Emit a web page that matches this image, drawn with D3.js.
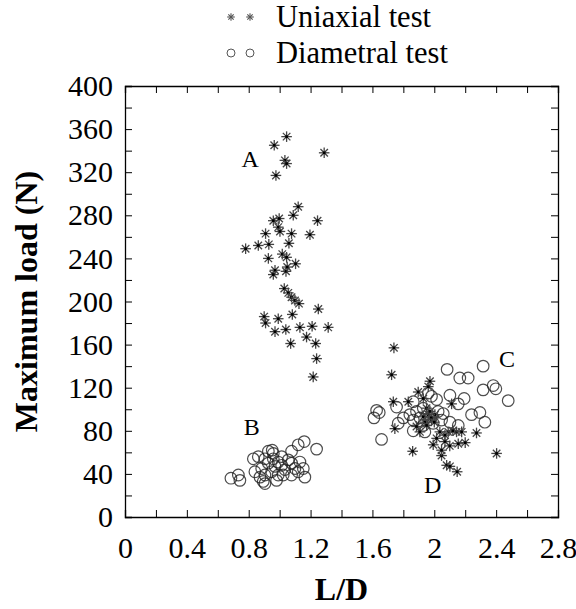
<!DOCTYPE html>
<html>
<head>
<meta charset="utf-8">
<script src="https://cdn.jsdelivr.net/npm/d3@7"></script>
<style>
  body { margin: 0; background: #fff; }
  text { font-family: "Liberation Serif", "Times New Roman", serif; fill: #000; }
</style>
</head>
<body>
<div id="chart"></div>
<script>
// Uniaxial test, cluster A  [L/D, load N]
const uniaxialA = [
  [1.045,353],[0.965,345],[1.288,338],[1.034,331],[1.045,328],[0.976,317],[1.12,288],[1.088,280],
  [1.245,275],[0.959,275],[0.997,277],[0.991,269],[1.002,265],[0.909,263],[1.077,263],[1.196,262],
  [0.78,249],[0.862,252],[0.93,253],[1.06,254],[0.927,240],[1.017,244],[1.045,241],[1.103,235],
  [0.97,229],[0.959,225],[1.041,228],[1.049,232],[1.03,212],[1.056,208],[1.077,204],[1.099,201],
  [1.125,198],[1.25,193],[1.082,188],[0.9,186],[0.909,180],[0.991,184],[0.97,172],[1.04,174],
  [1.131,176],[1.21,177],[1.314,176],[1.174,167],[1.233,161],[1.071,161],[1.239,147],[1.217,130]
];
// Uniaxial test, cluster D
const uniaxialD = [
  [1.739,157],[1.724,132],[1.972,126],[1.961,121],[1.896,116],[1.735,107],[1.832,107],[1.95,101],
  [2.112,105],[1.929,93],[1.961,95],[1.982,90],[1.939,88],[1.745,82],[1.885,84],[2.036,79],
  [2.09,79],[2.144,79],[2.177,79],[2.273,78],[2.069,70],[2.155,68],[1.993,67],[1.86,61],
  [2.047,57],[2.403,59],[2.08,48],[2.101,47],[2.148,42],[2.047,62],[2.015,73],[2.069,76],
  [1.907,79],[1.929,110],[1.972,98],[2.004,95],[1.98,92],[2.0,88],[1.95,85],[2.12,80],[2.2,69],[2.1,66]
];
// Diametral test, cluster B
const diametralB = [
  [0.685,36],[0.733,39],[0.743,34],[1.159,70],[1.239,63],[1.12,67],[1.077,61],[0.952,62],
  [0.959,59],[0.862,56],[0.83,54],[0.905,54],[1.013,56],[0.927,50],[1.077,50],[1.131,51],
  [1.013,48],[0.97,47],[1.034,44],[1.099,45],[1.153,45],[0.884,45],[0.905,39],[0.873,37],
  [0.894,33],[0.905,31],[0.991,39],[1.077,39],[1.023,39],[1.163,37],[0.98,34],[0.927,61],
  [0.959,54],[0.991,51],[1.056,53],[0.84,42],[0.948,42],[1.12,42]
];
// Diametral test, cluster C
const diametralC = [
  [2.083,137],[2.316,140],[2.165,129],[2.219,129],[2.316,118],[2.381,122],[2.398,119],[2.478,108],
  [2.101,113],[2.193,110],[2.155,105],[2.241,95],[2.295,97],[2.327,88],[2.058,96],[2.015,109],
  [1.961,115],[1.864,107],[1.756,102],[1.627,99],[1.644,97],[1.61,92],[1.659,72],[1.8,92],
  [1.767,87],[1.864,90],[1.885,98],[1.929,101],[2.025,98],[1.993,87],[1.864,80],[1.939,79],
  [2.155,85],[2.101,88],[2.047,90],[1.982,112],[1.907,92],[1.929,85],[1.842,95]
];
const clusterLabels = [
  {name: "A", x: 0.81, y: 325},
  {name: "B", x: 0.82, y: 76},
  {name: "C", x: 2.47, y: 139},
  {name: "D", x: 1.99, y: 22}
];
const xTicks = [0, 0.4, 0.8, 1.2, 1.6, 2, 2.4, 2.8];
const yTicks = [0, 40, 80, 120, 160, 200, 240, 280, 320, 360, 400];
const seriesNames = ["Uniaxial test", "Diametral test"];

const width = 576, height = 609;
const margin = {top: 86, left: 125, right: 18, bottom: 92};

const svg = d3.select("#chart").append("svg")
  .attr("width", width).attr("height", height);

const xScale = d3.scaleLinear().domain([0, 2.8]).range([margin.left, width - margin.right]);
const yScale = d3.scaleLinear().domain([0, 400]).range([height - margin.bottom, margin.top]);

const minorX = d3.range(0, 2.81, 0.2);
const minorY = d3.range(0, 401, 20);

/* AXES (ticks point inward) */
const xAxis = svg.append("g")
  .attr("transform", `translate(0,${yScale(0)})`)
  .call(d3.axisBottom(xScale).tickValues(minorX).tickSize(-7).tickPadding(20)
    .tickFormat(d => xTicks.some(t => Math.abs(t - d) < 1e-6) ? d3.format("~g")(+d.toFixed(1)) : ""));
const yAxis = svg.append("g")
  .attr("transform", `translate(${xScale(0)},0)`)
  .call(d3.axisLeft(yScale).tickValues(minorY).tickSize(-7).tickPadding(12)
    .tickFormat(d => yTicks.includes(d) ? d : ""));
const xTop = svg.append("g")
  .attr("transform", `translate(0,${yScale(400)})`)
  .call(d3.axisTop(xScale).tickValues(minorX).tickSize(-7).tickFormat(""));
const yRight = svg.append("g")
  .attr("transform", `translate(${xScale(2.8)},0)`)
  .call(d3.axisRight(yScale).tickValues(minorY).tickSize(-7).tickFormat(""));

svg.selectAll(".domain").attr("stroke", "#000").attr("stroke-width", 1.3);
svg.selectAll(".tick line").attr("stroke", "#000").attr("stroke-width", 1);
svg.selectAll(".tick text").attr("font-family", "Liberation Serif").attr("font-size", 30).attr("fill", "#000");

/* MARKERS */
function star(g, cx, cy, r, col, w) {
  const s = g.append("g").attr("transform", `translate(${cx},${cy})`);
  [0, 45, 90, 135].forEach(a => {
    const rad = a * Math.PI / 180;
    s.append("line")
      .attr("x1", -r * Math.cos(rad)).attr("y1", -r * Math.sin(rad))
      .attr("x2", r * Math.cos(rad)).attr("y2", r * Math.sin(rad))
      .attr("stroke", col).attr("stroke-width", w);
  });
  s.append("rect").attr("x", -1.3).attr("y", -1.3).attr("width", 2.6).attr("height", 2.6).attr("fill", "#000");
}

const plot = svg.append("g");

plot.selectAll("circle.dia")
  .data(diametralB.concat(diametralC))
  .enter().append("circle")
    .attr("class", "dia")
    .attr("cx", d => xScale(d[0]))
    .attr("cy", d => yScale(d[1]))
    .attr("r", 5.8)
    .attr("fill", "none")
    .attr("stroke", "#222")
    .attr("stroke-opacity", 0.8)
    .attr("stroke-width", 1.2);

uniaxialA.concat(uniaxialD).forEach(d => star(plot, xScale(d[0]), yScale(d[1]), 5.3, "#444", 1.3));

/* CLUSTER LABELS */
svg.selectAll("text.cl")
  .data(clusterLabels)
  .enter().append("text")
    .attr("class", "cl")
    .attr("x", d => xScale(d.x))
    .attr("y", d => yScale(d.y))
    .attr("text-anchor", "middle")
    .attr("font-size", 24)
    .text(d => d.name);

/* AXIS LABELS */
svg.append("text")
  .attr("x", xScale(1.4))
  .attr("y", 600)
  .attr("text-anchor", "middle")
  .attr("font-size", 32)
  .attr("font-weight", "bold")
  .text("L/D");

svg.append("text")
  .attr("transform", `translate(37,${yScale(200)}) rotate(-90)`)
  .attr("text-anchor", "middle")
  .attr("font-size", 32)
  .attr("font-weight", "bold")
  .text("Maximum load (N)");

/* LEGEND */
const legend = svg.append("g");
[231, 250].forEach(x => {
  const s = legend.append("g").attr("transform", `translate(${x},17)`);
  [0, 45, 90, 135].forEach(a => {
    const rad = a * Math.PI / 180;
    s.append("line")
      .attr("x1", -3.8 * Math.cos(rad)).attr("y1", -3.8 * Math.sin(rad))
      .attr("x2", 3.8 * Math.cos(rad)).attr("y2", 3.8 * Math.sin(rad))
      .attr("stroke", "#555").attr("stroke-width", 1.1);
  });
  legend.append("circle").attr("cx", x).attr("cy", 53).attr("r", 4)
    .attr("fill", "none").attr("stroke", "#555").attr("stroke-width", 1);
});
legend.selectAll("text")
  .data(seriesNames)
  .enter().append("text")
    .attr("x", 276)
    .attr("y", (d, i) => 27 + i * 36)
    .attr("font-size", 30.5)
    .text(d => d);
</script>
</body>
</html>
